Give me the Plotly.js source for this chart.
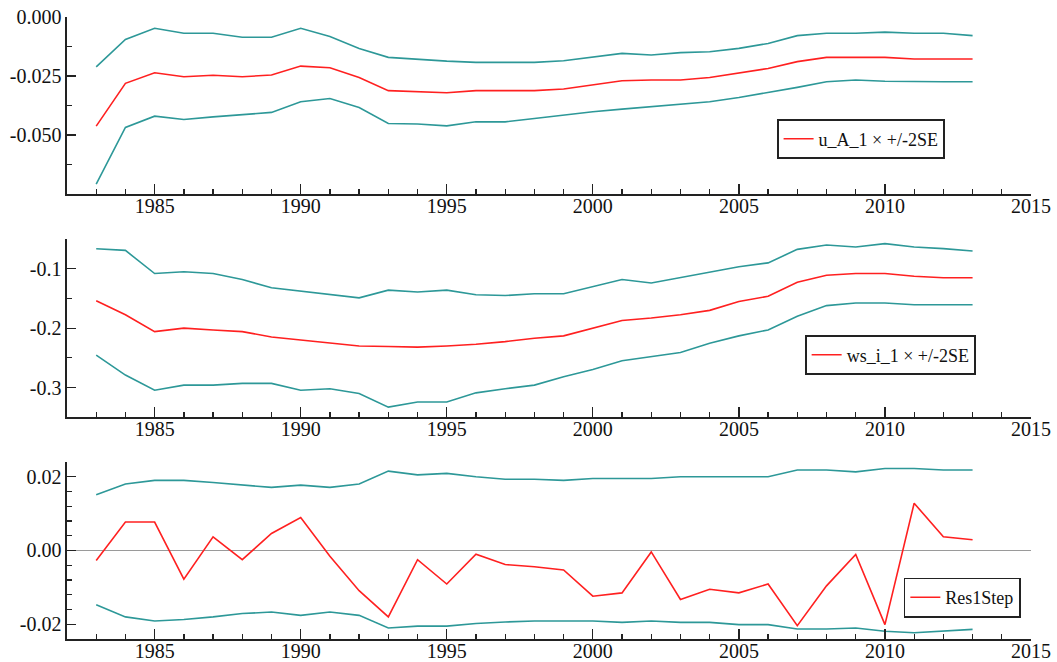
<!DOCTYPE html>
<html>
<head>
<meta charset="utf-8">
<script src="https://cdn.plot.ly/plotly-3.0.1.min.js"></script>
<style>html,body{margin:0;padding:0;background:#fff;}#chart{width:1057px;height:662px;}</style>
</head>
<body>
<div id="chart"></div>
<script>
const years = [1983,1984,1985,1986,1987,1988,1989,1990,1991,1992,1993,1994,1995,1996,1997,1998,1999,2000,2001,2002,2003,2004,2005,2006,2007,2008,2009,2010,2011,2012,2013];

// Panel 1: u_A_1 coefficient with +/- 2SE
const uA1 = [-0.0462,-0.0281,-0.0236,-0.0253,-0.0247,-0.0253,-0.0246,-0.0208,-0.0215,-0.0256,-0.0312,-0.0315,-0.0321,-0.0312,-0.0312,-0.0312,-0.0305,-0.0288,-0.0270,-0.0267,-0.0267,-0.0256,-0.0236,-0.0218,-0.0189,-0.0171,-0.0171,-0.0171,-0.0178,-0.0178,-0.0178];
const uA1Upper = [-0.0211,-0.0095,-0.0048,-0.0069,-0.0069,-0.0086,-0.0086,-0.0048,-0.0083,-0.0133,-0.0171,-0.0180,-0.0187,-0.0192,-0.0192,-0.0192,-0.0185,-0.0171,-0.0154,-0.0161,-0.0151,-0.0147,-0.0133,-0.0112,-0.0079,-0.0069,-0.0069,-0.0064,-0.0069,-0.0069,-0.0079];
const uA1Lower = [-0.0708,-0.0468,-0.0420,-0.0434,-0.0423,-0.0413,-0.0404,-0.0359,-0.0345,-0.0383,-0.0451,-0.0453,-0.0461,-0.0444,-0.0444,-0.0430,-0.0415,-0.0401,-0.0390,-0.0380,-0.0369,-0.0359,-0.0341,-0.0321,-0.0298,-0.0274,-0.0267,-0.0272,-0.0274,-0.0274,-0.0274];

// Panel 2: ws_i_1 coefficient with +/- 2SE
const wsI1 = [-0.1537,-0.1775,-0.2058,-0.200,-0.203,-0.2058,-0.215,-0.220,-0.2244,-0.230,-0.231,-0.232,-0.230,-0.227,-0.2227,-0.217,-0.213,-0.200,-0.187,-0.183,-0.1775,-0.170,-0.155,-0.1464,-0.1227,-0.111,-0.108,-0.108,-0.1125,-0.115,-0.115];
const wsI1Upper = [-0.0661,-0.069,-0.108,-0.105,-0.108,-0.118,-0.132,-0.138,-0.1436,-0.149,-0.136,-0.139,-0.136,-0.1436,-0.145,-0.142,-0.142,-0.1295,-0.118,-0.124,-0.115,-0.106,-0.0966,-0.090,-0.0673,-0.060,-0.0634,-0.0576,-0.0634,-0.066,-0.070];
const wsI1Lower = [-0.2453,-0.279,-0.3046,-0.296,-0.296,-0.293,-0.293,-0.3046,-0.302,-0.310,-0.333,-0.3244,-0.3244,-0.309,-0.302,-0.296,-0.282,-0.2695,-0.255,-0.248,-0.241,-0.2254,-0.213,-0.203,-0.180,-0.162,-0.1577,-0.1577,-0.1605,-0.1605,-0.1605];

// Panel 3: one-step residuals with +/- 2SE
const res1Step = [-0.0027,0.0077,0.0077,-0.0078,0.0037,-0.0025,0.0046,0.0089,-0.0016,-0.0109,-0.0180,-0.0025,-0.0091,-0.0010,-0.0038,-0.0044,-0.0053,-0.0124,-0.0115,-0.0004,-0.0133,-0.0105,-0.0115,-0.0091,-0.0204,-0.0096,-0.0011,-0.0201,0.0128,0.0037,0.0029];
const resUpper = [0.0151,0.0180,0.0190,0.0190,0.0184,0.0177,0.0171,0.0177,0.0171,0.0180,0.0215,0.0205,0.0209,0.0200,0.0193,0.0193,0.0190,0.0195,0.0195,0.0195,0.0200,0.0200,0.0200,0.0200,0.0218,0.0218,0.0213,0.0222,0.0222,0.0218,0.0218];
const resLower = [-0.0147,-0.0180,-0.0191,-0.0187,-0.0180,-0.0171,-0.0167,-0.0176,-0.0167,-0.0176,-0.0210,-0.0205,-0.0205,-0.0198,-0.0194,-0.0191,-0.0191,-0.0191,-0.0195,-0.0191,-0.0195,-0.0195,-0.0201,-0.0201,-0.0213,-0.0213,-0.0210,-0.0219,-0.0223,-0.0219,-0.0214];

const legendNames = ["u_A_1 × +/-2SE", "ws_i_1 × +/-2SE", "Res1Step"];

const y1Ticks = [0, -0.025, -0.05], y1Text = ["0.000", "-0.025", "-0.050"], y1Minor = [-0.0125, -0.0375, -0.0625, -0.075];
const y2Ticks = [-0.1, -0.2, -0.3], y2Text = ["-0.1", "-0.2", "-0.3"], y2Minor = [-0.05, -0.15, -0.25, -0.35];
const y3Ticks = [-0.02, 0, 0.02], y3Text = ["-0.02", "0.00", "0.02"], y3Minor = [-0.024,-0.016,-0.012,-0.008,-0.004,0.004,0.008,0.012,0.016,0.024];

const RED = "rgb(255,32,32)", TEAL = "rgb(45,152,152)";
const LW = 1.6;

function band(y, xa, ya) {
  return {x: years, y: y, xaxis: xa, yaxis: ya, mode: "lines", line: {color: TEAL, width: LW}, showlegend: false, hoverinfo: "skip"};
}
function main(y, xa, ya, name, leg) {
  return {x: years, y: y, xaxis: xa, yaxis: ya, mode: "lines", line: {color: RED, width: LW}, name: name, legend: leg, showlegend: true};
}

const traces = [
  band(uA1Upper, "x", "y"), band(uA1Lower, "x", "y"), main(uA1, "x", "y", legendNames[0], "legend"),
  band(wsI1Upper, "x2", "y2"), band(wsI1Lower, "x2", "y2"), main(wsI1, "x2", "y2", legendNames[1], "legend2"),
  band(resUpper, "x3", "y3"), band(resLower, "x3", "y3"), main(res1Step, "x3", "y3", legendNames[2], "legend3")
];

const tickFont = {family: "Liberation Serif, Times New Roman, serif", size: 20, color: "#111"};
const AXC = "#222";

function xax(anchor) {
  return {
    anchor: anchor, range: [1982, 2015], tickmode: "linear", tick0: 1985, dtick: 5,
    ticks: "inside", ticklen: 10, tickwidth: 1.3, tickcolor: AXC,
    minor: {ticks: "inside", ticklen: 5, tickwidth: 1.3, tickcolor: AXC, dtick: 1, tick0: 1982, showgrid: false},
    showline: true, linecolor: AXC, linewidth: 1.6, showgrid: false, zeroline: false,
    tickfont: tickFont, ticklabelstandoff: -7
  };
}
function yax(anchor, dom, range, tv, tt, mv, zl) {
  return {
    anchor: anchor, domain: dom, range: range, tickmode: "array", tickvals: tv, ticktext: tt,
    ticks: "inside", ticklen: 9, tickwidth: 1.3, tickcolor: AXC,
    minor: {ticks: "inside", ticklen: 5, tickwidth: 1.3, tickcolor: AXC, tickmode: "array", tickvals: mv, showgrid: false},
    showline: true, linecolor: AXC, linewidth: 1.6, showgrid: false,
    zeroline: !!zl, zerolinecolor: "#9a9a9a", zerolinewidth: 1.5,
    tickfont: tickFont
  };
}
function leg(x, y) {
  return {x: x, y: y, xref: "paper", yref: "paper", xanchor: "left", yanchor: "middle",
    bgcolor: "#fff", bordercolor: "#222", borderwidth: 1.6,
    font: {family: "Liberation Serif, Times New Roman, serif", size: 18, color: "#111"}};
}

const layout = {
  width: 1057, height: 662,
  margin: {l: 67, r: 26, t: 17, b: 23},
  paper_bgcolor: "#fff", plot_bgcolor: "#fff",
  showlegend: true,
  xaxis: xax("y"), xaxis2: xax("y2"), xaxis3: xax("y3"),
  yaxis: yax("x", [0.7153, 1.0], [-0.075, 0.0], y1Ticks, y1Text, y1Minor, false),
  yaxis2: yax("x2", [0.3566, 0.6429], [-0.35, -0.05], y2Ticks, y2Text, y2Minor, false),
  yaxis3: yax("x3", [0.0, 0.2847], [-0.024, 0.024], y3Ticks, y3Text, y3Minor, true),
  legend: leg(0.7365, 0.804),
  legend2: leg(0.7656, 0.4566),
  legend3: leg(0.868, 0.0667)
};

Plotly.newPlot("chart", traces, layout, {displayModeBar: false, staticPlot: true});
</script>
</body>
</html>
